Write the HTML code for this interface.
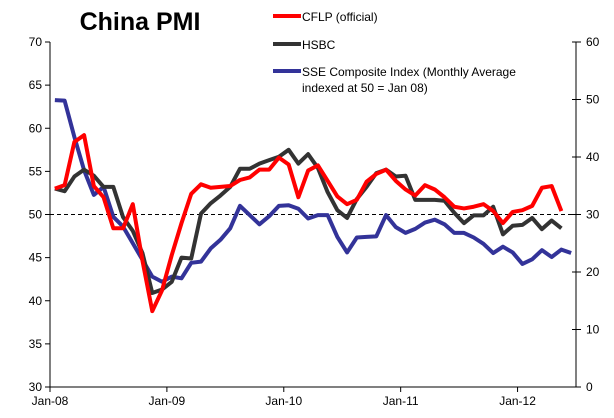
<!DOCTYPE html>
<html><head><meta charset="utf-8"><style>
body{margin:0;background:#fff}
svg text{font-family:"Liberation Sans",sans-serif;fill:#000}
</style></head><body>
<svg id="chart" width="614" height="413" xmlns="http://www.w3.org/2000/svg">
<rect width="614" height="413" fill="#fff"/>
<text x="140" y="30" text-anchor="middle" font-size="25" font-weight="bold">China PMI</text>
<g id="axes"></g>
<g id="series"></g>
<g>
<line x1="273" y1="16" x2="301" y2="16" stroke="#ff0000" stroke-width="4"/>
<text x="302" y="21" font-size="12">CFLP (official)</text>
<line x1="273" y1="44" x2="301" y2="44" stroke="#333333" stroke-width="4"/>
<text x="302" y="49" font-size="12">HSBC</text>
<line x1="273" y1="71" x2="301" y2="71" stroke="#333399" stroke-width="4"/>
<text x="302" y="76" font-size="12">SSE Composite Index (Monthly Average</text>
<text x="302" y="92" font-size="12">indexed at 50 = Jan 08)</text>
</g>
</svg>
<script>
const xLabels = ["Jan-08","Jan-09","Jan-10","Jan-11","Jan-12"];
const leftTicks = [30,35,40,45,50,55,60,65,70];
const rightTicks = [0,10,20,30,40,50,60];
const cflp = [53.0,53.4,58.4,59.2,53.3,52.0,48.4,48.4,51.2,44.6,38.8,41.2,
45.3,49.0,52.4,53.5,53.1,53.2,53.3,54.0,54.3,55.2,55.2,56.6,
55.8,52.0,55.1,55.7,53.9,52.1,51.2,51.7,53.8,54.7,55.2,53.9,
52.9,52.2,53.4,52.9,52.0,50.9,50.7,50.9,51.2,50.4,49.0,50.3,
50.5,51.0,53.1,53.3,50.4];
const hsbc = [53.0,52.7,54.4,55.2,54.5,53.2,53.2,49.7,48.1,45.5,40.9,41.3,
42.2,45.0,44.9,50.1,51.3,52.2,53.2,55.3,55.3,55.9,56.3,56.7,
57.5,55.9,57.0,55.4,52.6,50.5,49.6,51.8,53.2,54.8,55.2,54.4,
54.5,51.7,51.7,51.7,51.6,50.2,49.0,49.9,49.9,50.9,47.7,48.7,
48.8,49.6,48.3,49.3,48.4];
const sse = [49.9,49.8,43.5,37.7,33.4,34.8,29.6,27.9,25.0,22.1,19.2,18.3,
19.2,18.9,21.6,21.8,24.1,25.6,27.6,31.5,29.9,28.3,29.7,31.5,
31.6,31.0,29.3,29.9,29.9,26.1,23.4,26.0,26.1,26.2,29.9,27.8,
26.8,27.5,28.6,29.1,28.3,26.8,26.8,26.0,24.9,23.3,24.4,23.4,
21.4,22.2,23.8,22.6,23.9,23.3];
const NS="http://www.w3.org/2000/svg";
const L=50,R=576,T=42,B=387,N=54,W=(R-L)/N;
const x=i=>L+(i+0.5)*W;
const yL=v=>B-(v-30)*(B-T)/40;
const yR=v=>B-v*(B-T)/60;
function mk(tag,attrs,parent,txt){const e=document.createElementNS(NS,tag);for(const k in attrs)e.setAttribute(k,attrs[k]);if(txt!==undefined)e.textContent=txt;parent.appendChild(e);return e;}
const ax=document.getElementById('axes');
let e;
e=mk('line',{x1:L,y1:T,x2:L,y2:B,stroke:'#000','stroke-width':1},ax);


e=mk('line',{x1:R,y1:T,x2:R,y2:B,stroke:'#000','stroke-width':1},ax);


e=mk('line',{x1:L,y1:B,x2:R,y2:B,stroke:'#000','stroke-width':1},ax);


leftTicks.forEach(v=>{mk('line',{x1:L-5,y1:yL(v),x2:L,y2:yL(v),stroke:'#000'},ax);
e=mk('text',{x:L-8,y:yL(v)+4,'text-anchor':'end','font-size':12},ax,String(v));

});
rightTicks.forEach(v=>{mk('line',{x1:R-4,y1:yR(v),x2:R+5,y2:yR(v),stroke:'#000'},ax);
e=mk('text',{x:R+10,y:yR(v)+4,'font-size':12},ax,String(v));

});
xLabels.forEach((s,k)=>{const xx=L+k*12*W;mk('line',{x1:xx,y1:B,x2:xx,y2:B+5,stroke:'#000'},ax);
e=mk('text',{x:xx,y:B+18,'text-anchor':'middle','font-size':12},ax,s);

});
e=mk('line',{x1:L,y1:yL(50),x2:R,y2:yL(50),stroke:'#000','stroke-width':1,'stroke-dasharray':'4,3'},ax);


const sg=document.getElementById('series');
function line(arr,fy,color,name){const p=mk('polyline',{points:arr.map((v,i)=>x(i)+','+fy(v)).join(' '),fill:'none',stroke:color,'stroke-width':4,'stroke-linejoin':'round'},sg);

}
line(sse,yR,'#333399','sse-line');
line(hsbc,yL,'#333333','hsbc-line');
line(cflp,yL,'#ff0000','cflp-line');
</script>
</body></html>
